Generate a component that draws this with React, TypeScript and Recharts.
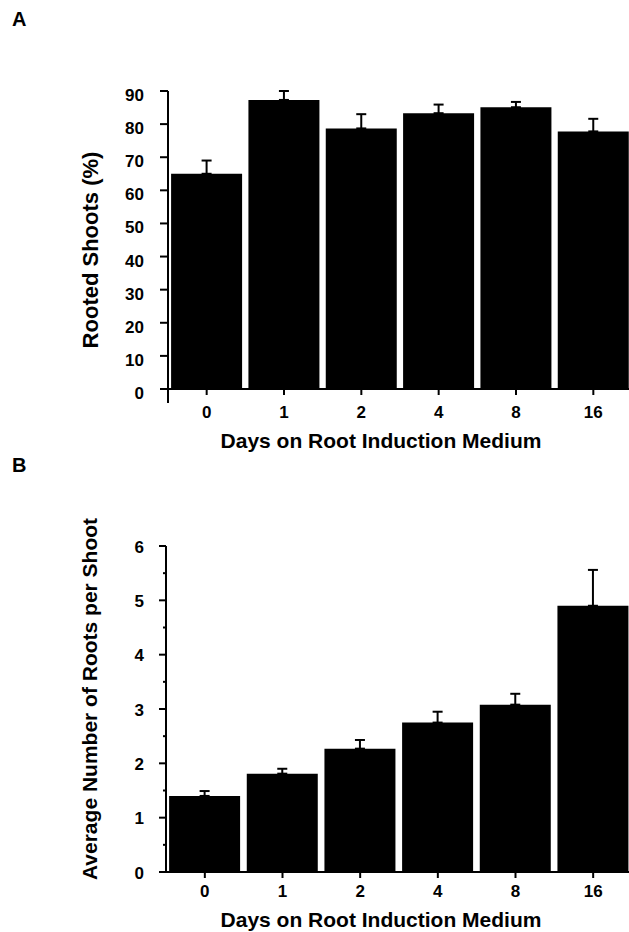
import React from "react"
import { BarChart, Bar, XAxis, YAxis, ErrorBar, Label } from "recharts"

// days on root induction medium
const days = ["0", "1", "2", "4", "8", "16"]

// panel A: rooted shoots (%) with upper SE
const rootedPct = [65, 87.3, 78.7, 83.3, 85.1, 77.8]
const rootedErr = [4, 2.7, 4.3, 2.6, 1.6, 3.8]
const ticksA = [0, 10, 20, 30, 40, 50, 60, 70, 80, 90]

// panel B: average number of roots per shoot with upper SE
const rootsPerShoot = [1.4, 1.81, 2.27, 2.75, 3.08, 4.9]
const rootsErr = [0.09, 0.09, 0.16, 0.2, 0.2, 0.66]
const ticksB = [0, 0.5, 1, 1.5, 2, 2.5, 3, 3.5, 4, 4.5, 5, 5.5, 6]

const dataA = days.map((d, i) => ({ day: d, value: rootedPct[i], err: [0, rootedErr[i]] }))
const dataB = days.map((d, i) => ({ day: d, value: rootsPerShoot[i], err: [0, rootsErr[i]] }))

const FONT = "'Liberation Sans', Arial, Helvetica, sans-serif"
const TICK_FONT = 17

// y tick with its own tick line (so minor ticks can be shorter)
function makeYTick(opts: { gap: number; major: number; minor: number; dy: number; extendZero?: number }) {
  return (props: any) => {
    const { x, y, payload } = props
    const axisX = x + opts.gap
    const isMajor = Number.isInteger(payload.value)
    return (
      <g>
        <line x1={axisX - (isMajor ? opts.major : opts.minor)} y1={y} x2={axisX} y2={y} stroke="#000" strokeWidth={2} />
        {opts.extendZero && payload.value === 0 ? (
          <line x1={axisX} y1={y} x2={axisX} y2={y + opts.extendZero} stroke="#000" strokeWidth={2} />
        ) : null}
        {isMajor ? (
          <text x={x} y={y} dy={opts.dy} textAnchor="end" fontSize={TICK_FONT} fontWeight="bold" fontFamily={FONT} fill="#000">
            {payload.value}
          </text>
        ) : null}
      </g>
    )
  }
}

const YLabel = (props: any) => {
  const { viewBox, value, tx, dy, size } = props
  const cx = viewBox.x + tx
  const cy = viewBox.y + viewBox.height / 2 + dy
  return (
    <text x={cx} y={cy} transform={`rotate(-90 ${cx} ${cy})`} textAnchor="middle" fontSize={size} fontWeight="bold" fontFamily={FONT} fill="#000">
      {value}
    </text>
  )
}

const XLabel = (props: any) => {
  const { viewBox, value, centerX, baseline } = props
  return (
    <text x={centerX} y={viewBox.y + baseline} textAnchor="middle" fontSize={21} fontWeight="bold" fontFamily={FONT} fill="#000">
      {value}
    </text>
  )
}

const tickStyle = { fill: "#000", fontSize: TICK_FONT, fontWeight: "bold", fontFamily: FONT }
const letterStyle: React.CSSProperties = {
  position: "absolute",
  left: 12,
  fontFamily: FONT,
  fontWeight: "bold",
  fontSize: 20,
  lineHeight: "20px",
}

export default function App() {
  return (
    <div style={{ position: "absolute", top: 0, left: 0, width: 629, height: 932, overflow: "hidden", background: "#fff", fontFamily: FONT }}>
      <div style={{ ...letterStyle, top: 9 }}>A</div>
      <div style={{ ...letterStyle, top: 455 }}>B</div>

      <div style={{ position: "absolute", top: 0, left: 0 }}>
        <BarChart width={632} height={460} data={dataA} margin={{ top: 91, right: 0, left: 0, bottom: 0 }} barCategoryGap="4%">
          <XAxis
            dataKey="day"
            height={71}
            tick={tickStyle}
            tickSize={6}
            tickMargin={11}
            axisLine={{ stroke: "#000", strokeWidth: 2 }}
            tickLine={{ stroke: "#000", strokeWidth: 2 }}
          >
            <Label content={<XLabel centerX={381} baseline={59} />} value="Days on Root Induction Medium" />
          </XAxis>
          <YAxis
            width={168}
            domain={[0, 90]}
            ticks={ticksA}
            interval={0}
            tickSize={8}
            tickMargin={16}
            tickLine={false}
            axisLine={{ stroke: "#000", strokeWidth: 2 }}
            tick={makeYTick({ gap: 24, major: 8, minor: 4, dy: 10, extendZero: 14 })}
          >
            <Label content={<YLabel tx={98} dy={10} size={22} />} value="Rooted Shoots (%)" />
          </YAxis>
          <Bar dataKey="value" fill="#000" isAnimationActive={false}>
            <ErrorBar dataKey="err" direction="y" width={5} stroke="#000" strokeWidth={2} isAnimationActive={false} />
          </Bar>
        </BarChart>
      </div>

      <div style={{ position: "absolute", top: 460, left: 0 }}>
        <BarChart width={632} height={472} data={dataB} margin={{ top: 86, right: 0, left: 0, bottom: 0 }} barCategoryGap="4%">
          <XAxis
            dataKey="day"
            height={60}
            tick={tickStyle}
            tickSize={6}
            tickMargin={7}
            axisLine={{ stroke: "#000", strokeWidth: 2 }}
            tickLine={{ stroke: "#000", strokeWidth: 2 }}
          >
            <Label content={<XLabel centerX={381} baseline={55} />} value="Days on Root Induction Medium" />
          </XAxis>
          <YAxis
            width={166}
            domain={[0, 6]}
            ticks={ticksB}
            interval={0}
            tickSize={7}
            tickMargin={15}
            tickLine={false}
            axisLine={{ stroke: "#000", strokeWidth: 2 }}
            tick={makeYTick({ gap: 22, major: 7, minor: 3, dy: 6.5 })}
          >
            <Label content={<YLabel tx={97} dy={-10} size={21} />} value="Average Number of Roots per Shoot" />
          </YAxis>
          <Bar dataKey="value" fill="#000" isAnimationActive={false}>
            <ErrorBar dataKey="err" direction="y" width={5} stroke="#000" strokeWidth={2} isAnimationActive={false} />
          </Bar>
        </BarChart>
      </div>
    </div>
  )
}
